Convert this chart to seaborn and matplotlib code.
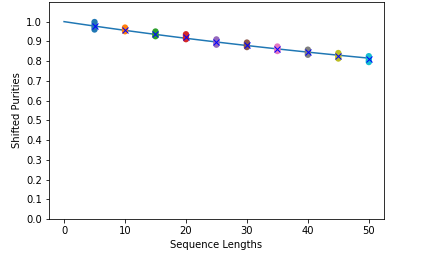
import numpy as np
import pandas as pd
import seaborn as sns
import matplotlib
matplotlib.use("Agg")
import matplotlib.pyplot as plt

# sequence lengths and per-seed shifted purities
lengths = [5, 10, 15, 20, 25, 30, 35, 40, 45, 50]
seed_purities = [
    [0.998, 0.985, 0.972, 0.960],
    [0.970, 0.962, 0.956, 0.951],
    [0.950, 0.940, 0.930, 0.926],
    [0.936, 0.928, 0.918, 0.911],
    [0.910, 0.900, 0.890, 0.883],
    [0.894, 0.886, 0.878, 0.871],
    [0.874, 0.866, 0.858, 0.851],
    [0.858, 0.849, 0.840, 0.832],
    [0.841, 0.832, 0.822, 0.813],
    [0.825, 0.815, 0.804, 0.795],
]

# fit parameters: A * alpha**m + B
fit_A = 0.5
fit_alpha = 0.9908
fit_B = 0.5

rows = []
for m, vals in zip(lengths, seed_purities):
    for v in vals:
        rows.append({"length": m, "purity": v})
df = pd.DataFrame(rows)
means = df.groupby("length", as_index=False)["purity"].mean()

xfit = np.arange(0, lengths[-1] + 1)
fit = pd.DataFrame({"length": xfit, "purity": fit_A * fit_alpha ** xfit + fit_B})

fig = plt.figure(figsize=(6, 3.75), dpi=72)
ax = fig.add_axes([0.113, 0.189, 0.776, 0.804])

sns.lineplot(data=fit, x="length", y="purity", color="tab:blue", linewidth=1.5, ax=ax, zorder=1)
sns.scatterplot(data=df, x="length", y="purity", hue="length",
                palette=sns.color_palette("tab10", len(lengths)), s=40,
                edgecolor="face", linewidth=0, legend=False, ax=ax, zorder=2)
sns.scatterplot(data=means, x="length", y="purity", marker="x", color="b",
                s=36, linewidth=1.0, legend=False, ax=ax, zorder=3)

ax.set_ylim(0, 1.1)
ax.set_xlim(-2.5, 52.5)
ax.set_yticks(np.arange(0, 1.01, 0.1))
ax.set_xticks(np.arange(0, 51, 10))
ax.set_xlabel("Sequence Lengths")
ax.set_ylabel("Shifted Purities")

fig.savefig("out.png", dpi=72)
